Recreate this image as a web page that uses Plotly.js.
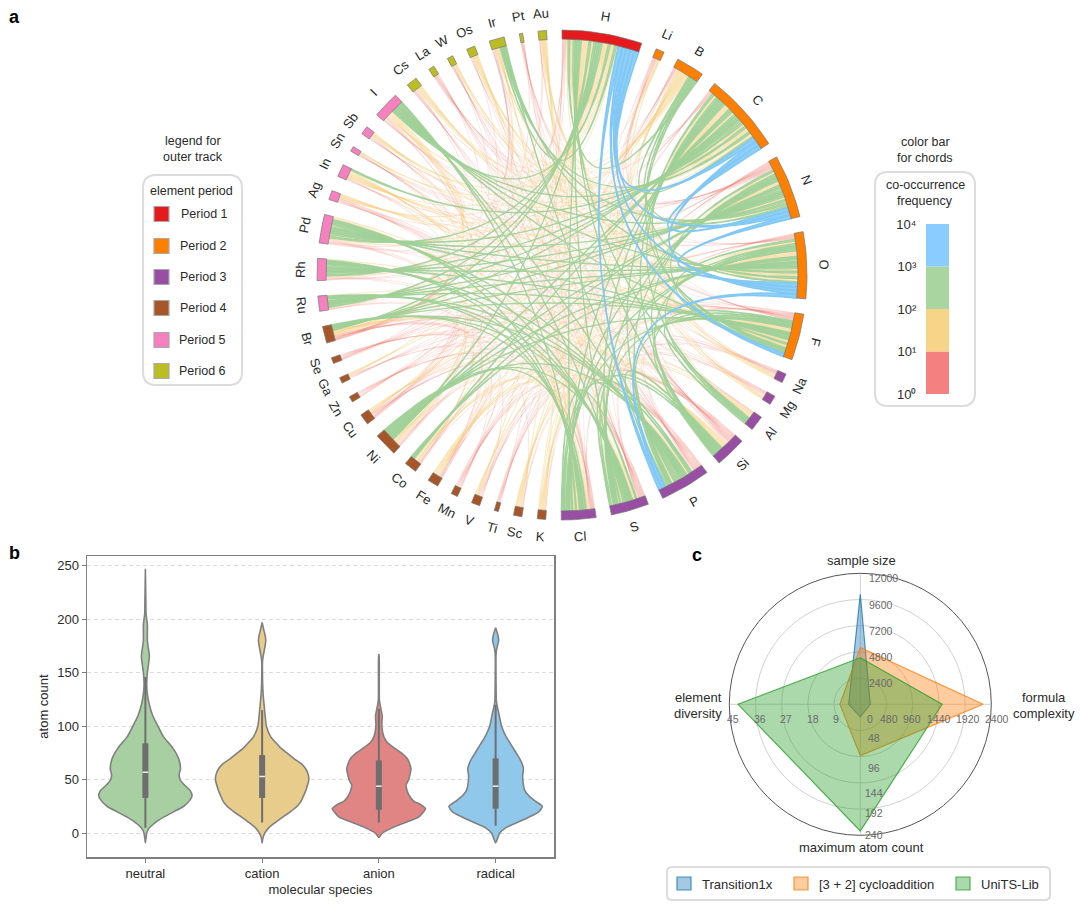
<!DOCTYPE html>
<html><head><meta charset="utf-8">
<script src="https://cdn.plot.ly/plotly-3.0.1.min.js"></script>
<style>html,body{margin:0;padding:0;background:#fff}#chart{width:1080px;height:908px}</style>
</head><body><div id="chart"></div>
<script>
// ---------- panel a data ----------
const elements = ["H","Li","B","C","N","O","F","Na","Mg","Al","Si","P","S","Cl","K","Sc","Ti","V","Mn","Fe","Co","Ni","Cu","Zn","Ga","Se","Br","Ru","Rh","Pd","Ag","In","Sn","Sb","I","Cs","La","W","Os","Ir","Pt","Au"];
const periods  = [1,2,2,2,2,2,2,3,3,3,3,3,3,3,4,4,4,4,4,4,4,4,4,4,4,4,4,5,5,5,5,5,5,5,5,6,6,6,6,6,6,6];
const elementSpans = [19,2,6.7,19,15,15.8,11,2.2,2.2,3.6,7.4,12,9,8.2,2,2,1,2,1.6,2.6,3,5.6,2.6,1.4,1.4,1.4,4,3.6,5.2,6.8,2.2,3,1.2,2,6.4,2.6,1.4,1.4,2,3.6,0.8,2];
const blueLinks = ["H C N O F P","C N O","N O","O P"];
const greenLinks = ["H B Si S Cl Br I Ni Rh Ru Pd Ir Al","C B Si P S Cl Br I Ni Co Rh Ru Pd Ir Al In F","N B F Si P S Cl Br I Ni Co Rh Ru Pd Ir","O B F Si S Cl Br I Ni Co Rh Ru Pd Al Ir","F B Si P S Cl Br I Ni Pd Rh Ru Al","P Si S Cl Br I Ni Rh Ru Pd Ir","S Si Cl Br Ni Pd Rh Ru I","Cl Si Br Ni Pd Rh Ru I"];
const yellowLinks = ["Li H C O","B P S Cl Br I Ni Pd Rh","Na H C N O","Mg H C O","Al N P S Cl","Si Br I Ni Rh Ru","K H C N O F S Cl","Sc H C N O F","V H C O","Fe H C N O F P S Cl","Co H F P S Cl Br","Ni I Br Si","Cu H C N O Cl","Ga C H","Br Si I Pd Rh Ru","Ru B Si I","Rh Si I","Pd Si I Ni","Ag H C N O F","In H N O F P Cl S","Sn C H Cl","Sb H C F Cl","I Si Pd Rh Ru","Cs C O H F","W C O H","Os C H O N P Cl","Ir F S Cl B Br","Au H C N O F P S Cl"];
const redLinks = ["Li N F P","Na F S Cl P","Mg Cl Br N","Al Si Br I","Si Co Pd Fe Cu","Ti H C N O Cl","V P F Cl N","Mn C H O N P S","Fe Br Si B","Co Si B I","Ni Ag Cu Co","Cu F S P Br I","Zn C H O N Cl P","Ga Cl N","Se C H N O P Cl","Br Ni Co Cu","Ru Br Cl","Rh Br Pd Ag","Pd Ag Br Cu","Ag P Cl S Br I","In C Si Br","Sn O N Br F","Sb O N S","I Ag Co Cu","Cs Cl S N","La C H O N Cl F","W N F P Cl","Os F S","Ir Si I Pd","Pt C H N O P Cl","Au Si Br I B"];
const faintLinks = ["Ti Si P S F","V H Br S","Mn F Cl Br","Sc Si P Br","K Si P","Cu Si B","Zn F S Br","Ga O F P","Se F S Si Br","Na Si Br B I","Mg F S P Si","Li S Cl Si B","Cs P Br Si","La S P Br Si","W S Br Si","Os Br Si","Pt F S Br Si","Sn S P Si","Sb P Si Br","In Pd I","Ag Ni Si Rh Ru","Ru Ni Ag Cu","Ir Ni Rh Ru Cu","Co Cu Fe Ni Pd","Fe Ni Cu Pd Rh","Mn Ni Si","Cu Pd Rh Ru"];
const mixedOrder = ["H","C","N","O","F","P","S","Cl","Rh","Pd","Ru"];
const bandNames = ["red","yellow","green","blue"];
const bandWeights = [0.7,1.4,2,4];
const bandLabels = ["10⁰","10¹","10²","10³","10⁴"];
const barColors = ["#f48080","#f7d488","#a9d5a0","#8accff"];
const periodNames = ["Period 1","Period 2","Period 3","Period 4","Period 5","Period 6"];
const periodColors = ["#e41a1c","#ff7f00","#984ea3","#a65628","#f781bf","#bcbd22"];

// ---------- panel b data ----------
const species = ["neutral","cation","anion","radical"];
const neutralY = [-9,0,5,10,15,20,25,30,35,40,45,50,55,60,70,80,90,100,110,120,130,140,150,165,180,195,205,215,247];
const neutralD = [0,4,12,30,55,85,115,132,141,135,118,105,102,106,100,82,55,38,22,12,6,4,6,12,6,6,2,1.5,0];
const cationY = [-9,-5,0,5,10,15,20,25,30,35,40,45,50,55,60,65,70,75,80,85,90,100,110,120,130,140,150,160,165,175,180,185,190,197];
const cationD = [0,2,8,20,40,62,85,105,118,125,132,137,141,139,132,118,95,75,55,40,26,13,9,6,3,1.5,1,1,3,9,11,9,5,0];
const anionY = [-4,0,5,10,15,20,23,27,30,35,40,45,50,55,60,65,70,75,80,85,90,100,110,118,125,167];
const anionD = [0,10,40,80,120,135,141,125,105,92,85,82,90,94,97,93,85,68,45,25,15,9,10,5,1.5,0.5];
const radicalY = [-9,0,5,10,15,20,25,30,35,40,50,55,60,65,70,75,80,85,90,100,110,120,125,135,165,172,180,185,192];
const radicalD = [0,12,30,65,100,130,141,120,100,88,82,82,84,80,72,62,52,42,32,18,11,4,2,1.5,1,3,9,7,0];
const q1 = [33,33,22,23], q3 = [84,73,68,70], medians = [57,53,44,44], whiskerLow = [5,10,10,7], whiskerHigh = [146,115,116,120];
const violinColors = ["#a8cfa2","#e8cc8c","#e08484","#90c8ec"];

// ---------- panel c data ----------
const radarAxes = ["sample size","formula","complexity","maximum atom count","element","diversity"];
const radarMax = [12000,2400,240,45];
const transition1x = [10073,183,23,4];
const cycloaddition = [5200,2250,94,7];
const unitsLib = [4270,1500,232,42];
const radarNames = ["Transition1x","[3 + 2] cycloaddition","UniTS-Lib"];
const radarColors = ["#1f77b4","#ff7f0e","#2ca02c"];
const sampleTicks = ["2400","4800","7200","9600","12000"];
const formulaTicks = ["480","960","1440","1920","2400"];
const atomTicks = ["48","96","144","192","240"];
const diversityTicks = ["9","18","27","36","45"];

// ---------- helpers ----------
const W = 1080, H = 908, FONT = '"Liberation Sans", Arial, sans-serif', INK = "#2b2b2b";
const px = x => x / W, py = y => 1 - y / H;
const annotations = [], shapes = [], traces = [];
function label(x, y, text, size, extra) {
  annotations.push(Object.assign({xref:"paper",yref:"paper",x:px(x),y:py(y),text,showarrow:false,xanchor:"center",yanchor:"middle",
    font:{family:FONT,size:size||12.5,color:INK}}, extra||{}));
}
function roundBox(x0,y0,x1,y1,r) {
  const X=px, Y=py;
  const d=`M ${X(x0+r)} ${Y(y0)} L ${X(x1-r)} ${Y(y0)} Q ${X(x1)} ${Y(y0)} ${X(x1)} ${Y(y0+r)} L ${X(x1)} ${Y(y1-r)} Q ${X(x1)} ${Y(y1)} ${X(x1-r)} ${Y(y1)} L ${X(x0+r)} ${Y(y1)} Q ${X(x0)} ${Y(y1)} ${X(x0)} ${Y(y1-r)} L ${X(x0)} ${Y(y0+r)} Q ${X(x0)} ${Y(y0)} ${X(x0+r)} ${Y(y0)} Z`;
  shapes.push({type:"path",xref:"paper",yref:"paper",path:d,line:{color:"#dcdcdc",width:2},fillcolor:"rgba(0,0,0,0)"});
}
function swatch(x0,y0,x1,y1,fill,line) {
  shapes.push({type:"rect",xref:"paper",yref:"paper",x0:px(x0),x1:px(x1),y0:py(y0),y1:py(y1),fillcolor:fill,line:{color:line,width:1.2}});
}

// ---------- panel a: chord diagram (unit circle in x/y axes) ----------
const CX=562, CY=275, RPX=245, AXR=1.1, INNER=0.963, TAPER=1.6;
const rad = d => d*Math.PI/180;
const polar = (deg,r) => [r*Math.sin(rad(deg)), r*Math.cos(rad(deg))];
const gap = (360 - elementSpans.reduce((a,b)=>a+b,0)) / elements.length;
const starts = []; { let a=0; elementSpans.forEach(s=>{starts.push(a); a+=s+gap;}); }
const idx = Object.fromEntries(elements.map((e,i)=>[e,i]));

const links = new Map();
[redLinks.concat(faintLinks),yellowLinks,greenLinks,blueLinks].forEach((rows,band)=>rows.forEach(row=>{
  const [a,...rest]=row.split(" ");
  rest.forEach(b=>{const i=idx[a],j=idx[b]; if(i!==j) links.set(Math.min(i,j)+"-"+Math.max(i,j),band);});
}));
const incident = elements.map(()=>[]);
const chords=[];
links.forEach((band,key)=>{
  const [i,j]=key.split("-").map(Number);
  const c={i,j,band};
  chords.push(c);
  incident[i].push({c,end:"a",other:j});
  incident[j].push({c,end:"b",other:i});
});
incident.forEach((list,e)=>{
  const mixed = mixedOrder.includes(elements[e]);
  const key = b => mixed ? (b===3?3:(b===0?0:1)) : b;
  const dist = o => ((o-e+elements.length)%elements.length);
  list.sort((p,q)=> key(p.c.band)-key(q.c.band) || (p.c.band===3 ? dist(q.other)-dist(p.other) : dist(p.other)-dist(q.other)));
  const total=list.reduce((s,p)=>s+bandWeights[p.c.band],0);
  let a=starts[e];
  list.forEach(p=>{
    const w=elementSpans[e]*bandWeights[p.c.band]/total;
    p.c[p.end]=[a,a+w]; a+=w;
  });
});
function ribbon(c) {
  const xs=[],ys=[];
  const add=p=>{xs.push(p[0]);ys.push(p[1]);};
  const arc=(s)=>{for(let k=0;k<=4;k++)add(polar(s[0]+(s[1]-s[0])*k/4,INNER));};
  const ma=(c.a[0]+c.a[1])/2, mb=(c.b[0]+c.b[1])/2;
  const q=(P,R,t)=>[(1-t)*(1-t)*P[0]+t*t*R[0],(1-t)*(1-t)*P[1]+t*t*R[1]];
  const edge=(d0,d1,m0,m1)=>{
    const A=polar(d0,INNER),B=polar(d1,INNER),MA=polar(m0,INNER),MB=polar(m1,INNER);
    for(let k=1;k<30;k++){
      const t=k/30,E=q(A,B,t),M=q(MA,MB,t),f=Math.pow(Math.abs(1-2*t),TAPER);
      add([M[0]+f*(E[0]-M[0]),M[1]+f*(E[1]-M[1])]);
    }};
  arc(c.a); edge(c.a[1],c.b[0],ma,mb); arc(c.b); edge(c.b[1],c.a[0],mb,ma);
  add(polar(c.a[0],INNER));
  return {xs,ys};
}
const chordFill = ["rgba(242,140,130,0.28)","rgba(248,212,133,0.50)","rgba(168,213,160,0.85)","rgba(135,206,250,0.95)"];
const chordLine = ["rgba(240,140,130,0.16)","rgba(246,205,120,0.28)","rgba(160,208,152,0.9)","rgba(130,200,245,1)"];
const chordWidth = [0.5,0.6,1.2,1.6];
[0,1,2,3].forEach(band=>{
  chords.filter(c=>c.band===band).forEach(c=>{
    const {xs,ys}=ribbon(c);
    traces.push({type:"scatter",mode:"lines",x:xs,y:ys,fill:"toself",fillcolor:chordFill[band],
      line:{color:chordLine[band],width:chordWidth[band]},hoverinfo:"skip",showlegend:false,name:bandNames[band]});
  });
});
elements.forEach((el,e)=>{
  const s=starts[e], span=elementSpans[e], xs=[],ys=[];
  for(let k=0;k<=12;k++){const p=polar(s+span*k/12,1);xs.push(p[0]);ys.push(p[1]);}
  for(let k=12;k>=0;k--){const p=polar(s+span*k/12,INNER);xs.push(p[0]);ys.push(p[1]);}
  xs.push(xs[0]);ys.push(ys[0]);
  traces.push({type:"scatter",mode:"lines",x:xs,y:ys,fill:"toself",fillcolor:periodColors[periods[e]-1],
    line:{color:"#777",width:0.7},hoverinfo:"skip",showlegend:false,name:el});
  const mid=s+span/2, p=polar(mid,1.07);
  const rot = mid<110 ? mid : (mid<270 ? mid-180 : mid-360);
  annotations.push({xref:"x",yref:"y",x:p[0],y:p[1],text:el,showarrow:false,textangle:rot,
    font:{family:FONT,size:13,color:INK},xanchor:"center",yanchor:"middle"});
});

// ---------- panel b: violins ----------
[[neutralY,neutralD],[cationY,cationD],[anionY,anionD],[radicalY,radicalD]].forEach(([ys,ds],i)=>{
  const m=Math.max(...ds);
  const hw=ds.map(d=>0.4*d/m);
  traces.push({type:"scatter",mode:"lines",xaxis:"x2",yaxis:"y2",
    x:hw.map(h=>i-h).concat(hw.map(h=>i+h).reverse()),
    y:ys.concat(ys.slice().reverse()),
    fill:"toself",fillcolor:violinColors[i],line:{color:"#808080",width:1.6,shape:"spline",smoothing:0.6},
    hoverinfo:"skip",showlegend:false,name:species[i]});
  traces.push({type:"scatter",mode:"lines",xaxis:"x2",yaxis:"y2",x:[i,i],y:[whiskerLow[i],whiskerHigh[i]],
    line:{color:"#6e6e6e",width:2},hoverinfo:"skip",showlegend:false});
  traces.push({type:"scatter",mode:"lines",xaxis:"x2",yaxis:"y2",x:[i,i],y:[q1[i],q3[i]],
    line:{color:"#6e6e6e",width:6},hoverinfo:"skip",showlegend:false});
  traces.push({type:"scatter",mode:"lines",xaxis:"x2",yaxis:"y2",x:[i-0.024,i+0.024],y:[medians[i],medians[i]],
    line:{color:"#eeeeee",width:1.5},hoverinfo:"skip",showlegend:false});
});

// ---------- colour bar (log decades) ----------
traces.push({type:"bar",xaxis:"x3",yaxis:"y3",x:[0,0,0,0],y:[1,1,1,1],base:[0,1,2,3],width:1,
  marker:{color:barColors,line:{width:0}},hoverinfo:"skip",showlegend:false});

// ---------- panel c: radar ----------
const RCX=860.3, RCY=704.3, RR=131;
[transition1x,cycloaddition,unitsLib].forEach((vals,i)=>{
  const r=vals.map((v,k)=>v/radarMax[k]);
  traces.push({type:"scatterpolar",mode:"lines",subplot:"polar",r:r.concat(r[0]),theta:[0,90,180,270,360],
    fill:"toself",fillcolor:radarColors[i]+"66",line:{color:radarColors[i]+"cc",width:1.2},
    hoverinfo:"skip",showlegend:false,name:radarNames[i]});
});
const TS=10.5;
const tickStyle={font:{family:FONT,size:TS,color:"#6a6a6a"}};
label(RCX+10,719,"0",TS,tickStyle);
sampleTicks.forEach((t,k)=>label(RCX+7,RCY-RR*(k+1)/5+5,t,TS,Object.assign({xanchor:"left"},tickStyle)));
const formulaShift=[2,-1,0,3,6], diversityShift=[2,5,4,4,4], atomShift=[7,11,10,4,0];
formulaTicks.forEach((t,k)=>label(RCX+RR*(k+1)/5+formulaShift[k],719,t,TS,tickStyle));
diversityTicks.forEach((t,k)=>label(RCX-RR*(k+1)/5+diversityShift[k],719,t,TS,tickStyle));
atomTicks.forEach((t,k)=>label(RCX+14,RCY+RR*(k+1)/5+atomShift[k],t,TS,tickStyle));
label(861,560,radarAxes[0],13);
label(1044,697,radarAxes[1],13);
label(1044,713,radarAxes[2],13);
label(861,847,radarAxes[3],13);
label(698,697,radarAxes[4],13);
label(698,713,radarAxes[5],13);
roundBox(667,867,1050,900,5);
const legX=[677,794,956], legTextX=[700,817,979];
radarNames.forEach((n,i)=>{
  swatch(legX[i],877,legX[i]+14,890,radarColors[i]+"66",radarColors[i]+"cc");
  label(legTextX[i],884,n,13,{xanchor:"left"});
});

// ---------- boxes and legends ----------
label(193,141,"legend for",12.5);
label(193,157,"outer track",12.5);
roundBox(143,175,242,385,13);
label(191,191,"element period",12.5);
const periodRowY=[214,246,277,308,340,371], periodTextX=[204,203.5,203,203,202,202];
periodNames.forEach((n,i)=>{
  swatch(154,periodRowY[i]-7.5,169,periodRowY[i]+7.5,periodColors[i],"#a9a9a9");
  label(periodTextX[i],periodRowY[i],n,12.5);
});
label(925,142,"color bar",12.5);
label(925,158,"for chords",12.5);
roundBox(875,172,975,406,13);
label(925,185,"co-occurrence",12.5);
label(925,201,"frequency",12.5);

const bold={font:{family:FONT,size:18,color:"#000",weight:"bold"}};
label(14,17,"a",18,bold);
label(14,553,"b",18,bold);
label(697,555,"c",18,bold);

const hidden={visible:false,showgrid:false,zeroline:false,fixedrange:true};
const half=AXR*RPX;
const layout={
  width:W,height:H,margin:{l:0,r:0,t:0,b:0},paper_bgcolor:"#fff",plot_bgcolor:"rgba(0,0,0,0)",showlegend:false,barmode:"overlay",
  font:{family:FONT,color:INK,size:13},
  xaxis:Object.assign({},hidden,{domain:[px(CX-half),px(CX+half)],range:[-AXR,AXR]}),
  yaxis:Object.assign({},hidden,{domain:[py(CY+half),py(CY-half)],range:[-AXR,AXR]}),
  xaxis2:{domain:[px(87),px(554)],anchor:"y2",range:[-0.5,3.5],tickvals:[0,1,2,3],ticktext:species,showgrid:false,zeroline:false,
    showline:true,mirror:true,linecolor:"#7f7f7f",linewidth:1.5,ticks:"outside",ticklen:4,tickcolor:"#7f7f7f",
    tickfont:{family:FONT,size:13,color:INK},title:{text:"molecular species",font:{family:FONT,size:13,color:INK},standoff:5}},
  yaxis2:{domain:[py(857),py(556)],anchor:"x2",range:[-22.2,259],tickvals:[0,50,100,150,200,250],zeroline:false,
    showgrid:true,gridcolor:"#dcdcdc",griddash:"4px,3px",gridwidth:1,
    showline:true,mirror:true,linecolor:"#7f7f7f",linewidth:1.5,ticks:"outside",ticklen:4,tickcolor:"#7f7f7f",
    tickfont:{family:FONT,size:13,color:INK},title:{text:"atom count",font:{family:FONT,size:13,color:INK},standoff:5}},
  xaxis3:Object.assign({},hidden,{domain:[px(926),px(949)],anchor:"y3",range:[-0.5,0.5]}),
  yaxis3:{domain:[py(394),py(224)],anchor:"x3",range:[0,4],tickvals:[0,1,2,3,4],ticktext:bandLabels,showgrid:false,zeroline:false,showline:false,
    ticks:"outside",ticklen:6,tickcolor:"rgba(0,0,0,0)",tickfont:{family:FONT,size:13,color:INK}},
  polar:{domain:{x:[px(RCX-RR),px(RCX+RR)],y:[py(RCY+RR),py(RCY-RR)]},bgcolor:"rgba(0,0,0,0)",
    angularaxis:{direction:"clockwise",rotation:90,tickvals:[0,90,180,270],showticklabels:false,ticks:"",showline:true,linecolor:"#555",linewidth:1,gridcolor:"#d2d2d2",thetaunit:"degrees"},
    radialaxis:{range:[0,1],tickvals:[0.2,0.4,0.6,0.8,1],showticklabels:false,ticks:"",showline:false,gridcolor:"#d2d2d2",angle:90}},
  annotations,shapes
};
Plotly.newPlot("chart",traces,layout,{displayModeBar:false,staticPlot:true});
</script></body></html>
